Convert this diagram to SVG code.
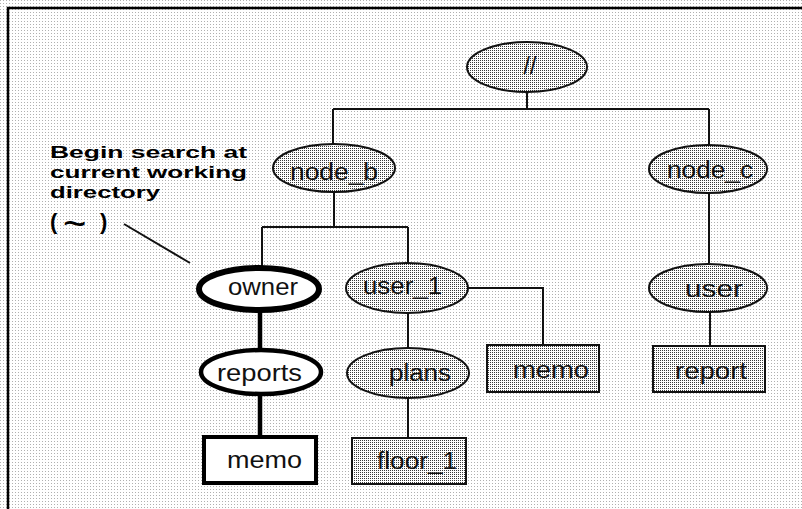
<svg xmlns="http://www.w3.org/2000/svg" width="802" height="509" viewBox="0 0 802 509">
<style>
.lbl{font-family:"Liberation Sans",Arial,sans-serif;font-size:23px;fill:#111}
.call{font-family:"Liberation Sans",Arial,sans-serif;font-size:17px;font-weight:bold;fill:#000}
.gray{fill:url(#shade);stroke:#111;stroke-width:2}
.line{stroke:#111;stroke-width:2;fill:none}
.thick{stroke:#000;stroke-width:4.5;fill:none}
</style>
<defs>
<pattern id="bgdots" width="3" height="3" patternUnits="userSpaceOnUse">
<rect width="3" height="3" fill="#ffffff"/>
<rect width="1" height="1" fill="#b0b0b0"/>
</pattern>
<pattern id="shade" width="2" height="2" patternUnits="userSpaceOnUse">
<rect width="2" height="2" fill="#ffffff"/>
<rect width="1" height="1" fill="#3a3a3a"/>
</pattern>
</defs>
<rect width="802" height="509" fill="url(#bgdots)"/>
<path d="M8,509 V8 H802" stroke="#000" stroke-width="2.5" fill="none"/>

<g id="connectors">
<path class="line" d="M527,92 V109 M333,109 H709 M333,109 V144 M709,109 V145"/>
<path class="line" d="M334,192 V227 M262,227 H408 M262,227 V266 M408,227 V263"/>
<path class="line" d="M468,288 H543 V345"/>
<path class="line" d="M408,313 V348 M408,398 V438"/>
<path class="line" d="M709,193 V263 M710,312 V346"/>
<path class="thick" d="M260,311 V350 M260,395 V437"/>
<path class="line" d="M124,224 L190,263"/>
</g>

<g id="root"><ellipse class="gray" cx="527" cy="67" rx="60" ry="25"/><text class="lbl" x="530" y="74" text-anchor="middle">//</text></g>
<g id="node_b"><ellipse class="gray" cx="334" cy="168" rx="61" ry="24"/><text class="lbl" x="290" y="180" textLength="88" lengthAdjust="spacingAndGlyphs">node_b</text></g>
<g id="node_c"><ellipse class="gray" cx="708" cy="169" rx="59" ry="24"/><text class="lbl" x="667" y="178" textLength="86" lengthAdjust="spacingAndGlyphs">node_c</text></g>
<g id="owner"><ellipse cx="259" cy="289" rx="60" ry="21" fill="#fff" stroke="#000" stroke-width="6"/><text class="lbl" x="228" y="295" textLength="70" lengthAdjust="spacingAndGlyphs">owner</text></g>
<g id="user_1"><ellipse class="gray" cx="407" cy="288" rx="61" ry="25"/><text class="lbl" x="363" y="294" textLength="79" lengthAdjust="spacingAndGlyphs">user_1</text></g>
<g id="user"><ellipse class="gray" cx="708" cy="288" rx="59" ry="24"/><text class="lbl" x="685" y="297" textLength="58" lengthAdjust="spacingAndGlyphs">user</text></g>
<g id="reports"><ellipse cx="261" cy="372" rx="60" ry="22" fill="#fff" stroke="#000" stroke-width="4.5"/><text class="lbl" x="217" y="381" textLength="85" lengthAdjust="spacingAndGlyphs">reports</text></g>
<g id="plans"><ellipse class="gray" cx="408" cy="373" rx="61" ry="25"/><text class="lbl" x="389" y="381" textLength="62" lengthAdjust="spacingAndGlyphs">plans</text></g>
<g id="memo_user_1"><rect class="gray" x="487" y="345" width="112" height="47"/><text class="lbl" x="513" y="378" textLength="76" lengthAdjust="spacingAndGlyphs">memo</text></g>
<g id="report"><rect class="gray" x="653" y="346" width="112" height="46"/><text class="lbl" x="675" y="379" textLength="72" lengthAdjust="spacingAndGlyphs">report</text></g>
<g id="memo_reports"><rect x="204" y="437" width="112" height="46" fill="#fff" stroke="#000" stroke-width="4"/><text class="lbl" x="227" y="468" textLength="75" lengthAdjust="spacingAndGlyphs">memo</text></g>
<g id="floor_1"><rect class="gray" x="352" y="438" width="114" height="46"/><text class="lbl" x="377" y="469" textLength="80" lengthAdjust="spacingAndGlyphs">floor_1</text></g>

<g id="callout">
<text class="call" x="50" y="158" textLength="197" lengthAdjust="spacingAndGlyphs">Begin search at</text>
<text class="call" x="50" y="178" textLength="197" lengthAdjust="spacingAndGlyphs">current working</text>
<text class="call" x="50" y="198" textLength="110" lengthAdjust="spacingAndGlyphs">directory</text>
<text class="call" x="50" y="229" style="font-size:22px">(<tspan x="100" y="229">)</tspan></text>
<text class="call" x="63" y="237" style="font-size:40px;font-weight:normal">~</text>
</g>
</svg>
